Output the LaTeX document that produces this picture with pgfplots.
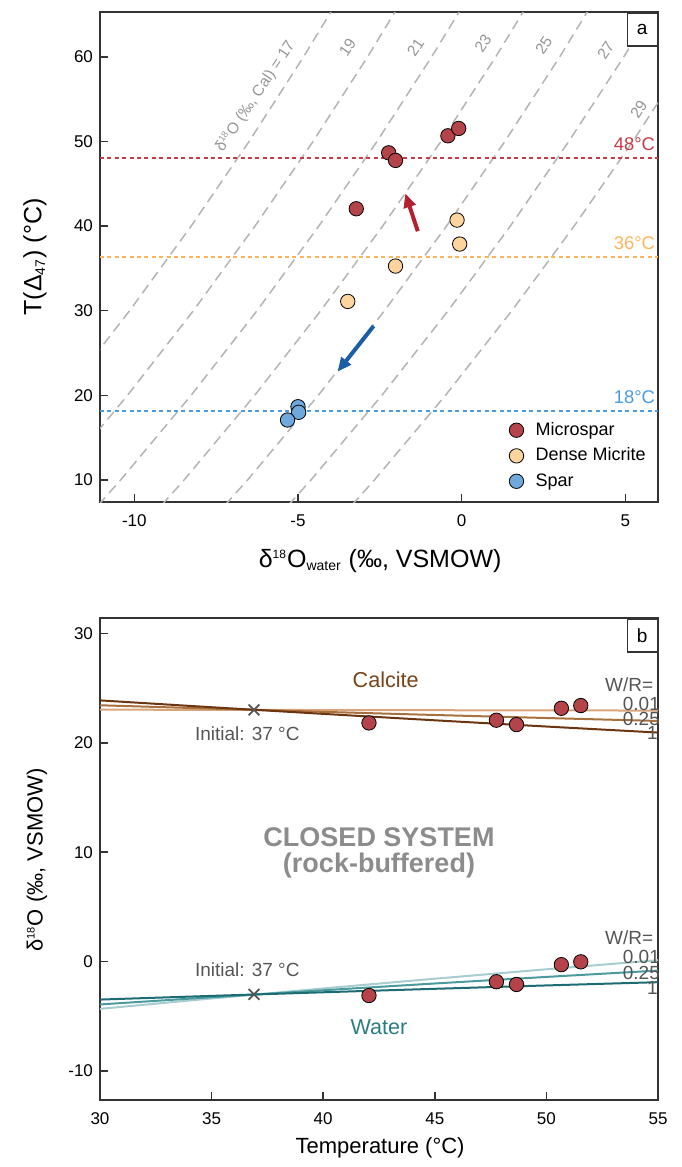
\documentclass[border=0pt]{standalone}
\usepackage{pgfplots}
\pgfplotsset{compat=1.18}
\usepackage{fontspec}
\setmainfont{Liberation Sans}
\usetikzlibrary{arrows.meta}
\definecolor{micro}{RGB}{180,67,74}
\definecolor{dense}{RGB}{253,212,158}
\definecolor{spar}{RGB}{111,168,220}
\definecolor{hred}{RGB}{200,60,70}
\definecolor{horange}{RGB}{253,180,92}
\definecolor{hblue}{RGB}{74,155,224}
\definecolor{redarrow}{RGB}{181,32,46}
\definecolor{bluearrow}{RGB}{26,94,168}
\definecolor{contour}{RGB}{180,180,180}
\definecolor{clabel}{RGB}{150,150,150}
\definecolor{calA}{RGB}{217,164,122}
\definecolor{calB}{RGB}{168,112,62}
\definecolor{calC}{RGB}{107,53,16}
\definecolor{watA}{RGB}{168,205,208}
\definecolor{watB}{RGB}{74,154,158}
\definecolor{watC}{RGB}{29,107,115}
\definecolor{caltext}{RGB}{122,68,24}
\definecolor{wattext}{RGB}{42,126,131}
\definecolor{txtgray}{RGB}{85,85,85}
\pgfplotsset{
  common/.style={
    scale only axis, width=279pt,
    tick align=inside, xtick pos=left, ytick pos=left,
    major tick length=4pt,
    axis line style={line width=0.75pt, color=black!80},
    tick style={line width=0.75pt, color=black!80},
    ticklabel style={font=\fontsize{8.5}{10}\selectfont},
    xticklabel style={yshift=-2.8pt},
    /pgf/number format/assume math mode=true,
    clip mode=individual,
  },
  pt/.style={only marks, mark=*, mark size=3.6pt, mark options={draw=black, line width=0.5pt}},
  cont/.style={contour, line width=0.75pt, dash pattern=on 5pt off 3pt, forget plot},
}
\begin{document}
\begin{tikzpicture}
\useasboundingbox (-50pt,6pt) rectangle (290.5pt,-577.5pt);
% ---------------- panel a
\begin{axis}[common, height=245pt, at={(0,0)}, anchor=north west,
  xmin=-11.05, xmax=6, ymin=7.4, ymax=65.3,
  xtick={-10,-5,0,5}, ytick={10,20,30,40,50,60},
  legend style={at={(rel axis cs:0.722,0.18)}, anchor=north west, draw=none, fill=none,
    font=\fontsize{9}{10.5}\selectfont, row sep=0.8pt},
  legend cell align=left,
]
\addplot[cont] coordinates {(-16.592,0) (-14.296,10) (-12.152,20) (-10.146,30) (-8.265,40) (-6.496,50) (-4.831,60) (-3.260,70)};
\addplot[cont] coordinates {(-14.658,0) (-12.358,10) (-10.210,20) (-8.199,30) (-6.315,40) (-4.542,50) (-2.874,60) (-1.299,70)};
\addplot[cont] coordinates {(-12.724,0) (-10.419,10) (-8.267,20) (-6.253,30) (-4.365,40) (-2.588,50) (-0.917,60) (0.661,70)};
\addplot[cont] coordinates {(-10.790,0) (-8.481,10) (-6.324,20) (-4.306,30) (-2.414,40) (-0.634,50) (1.040,60) (2.621,70)};
\addplot[cont] coordinates {(-8.856,0) (-6.542,10) (-4.382,20) (-2.359,30) (-0.464,40) (1.319,50) (2.997,60) (4.581,70)};
\addplot[cont] coordinates {(-6.922,0) (-4.604,10) (-2.439,20) (-0.413,30) (1.486,40) (3.273,50) (4.954,60) (6.541,70)};
\addplot[cont] coordinates {(-4.988,0) (-2.666,10) (-0.496,20) (1.534,30) (3.437,40) (5.227,50) (6.911,60) (8.501,70)};
\addplot[hred, line width=1pt, dash pattern=on 2pt off 1.7pt, forget plot] coordinates {(-11.05,48) (6,48)};
\addplot[horange, line width=1pt, dash pattern=on 2pt off 1.7pt, forget plot] coordinates {(-11.05,36.3) (6,36.3)};
\addplot[hblue, line width=1pt, dash pattern=on 2pt off 1.7pt, forget plot] coordinates {(-11.05,18.1) (6,18.1)};
\addplot[pt, mark options={fill=micro}] coordinates {(-2.23,48.66) (-2.02,47.76) (-0.42,50.67) (-0.09,51.54) (-3.22,42.05)};
\addlegendentry{\hspace*{4pt}Microspar}
\addplot[pt, mark options={fill=dense}] coordinates {(-0.14,40.71) (-0.06,37.88) (-2.02,35.28) (-3.48,31.10)};
\addlegendentry{\hspace*{4pt}Dense Micrite}
\addplot[pt, mark options={fill=spar}] coordinates {(-5.00,18.66) (-4.98,18.00) (-5.32,17.09)};
\addlegendentry{\hspace*{4pt}Spar}
\draw[redarrow, line width=2pt, -{Triangle[length=7pt,width=6pt]}] (axis cs:-1.34,39.4) -- (axis cs:-1.72,43.86);
\draw[bluearrow, line width=2pt, -{Triangle[length=7pt,width=6pt]}] (axis cs:-2.69,28.19) -- (axis cs:-3.79,22.8);
\begin{scope}[every node/.style={font=\fontsize{7.8}{9}\selectfont, text=clabel, rotate=56}]
\node at (axis cs:-6.3,55.3) {δ\textsuperscript{\fontsize{4.6}{5}\selectfont 18}O (‰, Cal) = 17};
\node at (axis cs:-3.49,61.1) {19};
\node at (axis cs:-1.41,61.1) {21};
\node at (axis cs:0.65,61.6) {23};
\node at (axis cs:2.51,61.4) {25};
\node at (axis cs:4.40,60.8) {27};
\node at (axis cs:5.41,53.8) {29};
\end{scope}
\begin{scope}[every node/.style={anchor=base east, inner sep=0pt, yshift=4pt, font=\fontsize{9.2}{10}\selectfont}]
\node[text=hred] at (axis cs:5.92,48) {48°C};
\node[text=horange] at (axis cs:5.92,36.3) {36°C};
\node[text=hblue] at (axis cs:5.92,18.1) {18°C};
\end{scope}
\node[draw=black!80, line width=0.75pt, fill=white, anchor=north east, minimum width=15pt, minimum height=16.5pt, inner sep=0pt, font=\fontsize{9.5}{10}\selectfont] at (rel axis cs:1,1) {a};
\node[font=\fontsize{12.5}{14}\selectfont] at (rel axis cs:0.502,-0.12) {δ\textsuperscript{\fontsize{6}{6}\selectfont 18}O\textsubscript{\fontsize{7}{7}\selectfont water} (‰, VSMOW)};
\node[rotate=90, font=\fontsize{12.5}{14}\selectfont] at (rel axis cs:-0.1165,0.5) {T(Δ\textsubscript{\fontsize{7}{7}\selectfont 47}) (°C)};
\end{axis}
% ---------------- panel b
\begin{axis}[common, height=241pt, at={(0,-303pt)}, anchor=north west,
  xmin=30, xmax=55, ymin=-12.65, ymax=31.4,
  xtick={30,35,40,45,50,55}, ytick={-10,0,10,20,30},
]
\addplot[calA, line width=1pt] coordinates {(30,23.024) (35,23.007) (40,22.990) (45,22.973) (50,22.957) (55,22.942)};
\addplot[calB, line width=1pt] coordinates {(30,23.425) (35,23.120) (40,22.824) (45,22.537) (50,22.260) (55,21.991)};
\addplot[calC, line width=1pt] coordinates {(30,23.871) (35,23.245) (40,22.639) (45,22.051) (50,21.482) (55,20.930)};
\addplot[watA, line width=1pt] coordinates {(30,-4.318) (35,-3.371) (40,-2.453) (45,-1.564) (50,-0.703) (55,0.132)};
\addplot[watB, line width=1pt] coordinates {(30,-3.917) (35,-3.258) (40,-2.619) (45,-2.001) (50,-1.401) (55,-0.820)};
\addplot[watC, line width=1pt] coordinates {(30,-3.471) (35,-3.133) (40,-2.804) (45,-2.487) (50,-2.179) (55,-1.881)};
\addplot[only marks, mark=x, mark size=3.8pt, mark options={draw=txtgray, line width=0.9pt}] coordinates {(36.9,23.0) (36.9,-3.0)};
\addplot[pt, mark options={fill=micro}] coordinates {(42.05,21.81) (47.76,22.06) (48.66,21.66) (50.67,23.15) (51.54,23.40)};
\addplot[pt, mark options={fill=micro}] coordinates {(42.05,-3.1) (47.76,-1.84) (48.66,-2.09) (50.67,-0.28) (51.54,-0.02)};
\begin{scope}[every node/.style={font=\fontsize{9.5}{10}\selectfont, text=txtgray, inner sep=0pt}]
\node at (axis cs:36.6,20.87) {Initial: 37 °C};
\node at (axis cs:36.6,-0.78) {Initial: 37 °C};
\node[anchor=east] at (axis cs:54.8,25.34) {W/R=};
\node[anchor=east] at (axis cs:55.1,23.5) {0.01};
\node[anchor=east] at (axis cs:55.1,22.2) {0.25};
\node[anchor=east] at (axis cs:55.0,20.87) {1};
\node[anchor=east] at (axis cs:54.8,2.15) {W/R=};
\node[anchor=east] at (axis cs:55.1,0.41) {0.01};
\node[anchor=east] at (axis cs:55.1,-1.05) {0.25};
\node[anchor=east] at (axis cs:55.0,-2.42) {1};
\end{scope}
\node[text=caltext, font=\fontsize{10.8}{12}\selectfont] at (axis cs:42.8,25.71) {Calcite};
\node[text=wattext, font=\fontsize{10.8}{12}\selectfont] at (axis cs:42.5,-5.98) {Water};
\node[text=black!45, font=\bfseries\fontsize{13.5}{15}\selectfont] at (axis cs:42.5,11.37) {CLOSED SYSTEM};
\node[text=black!45, font=\bfseries\fontsize{13.5}{15}\selectfont] at (axis cs:42.5,8.81) {(rock-buffered)};
\node[draw=black!80, line width=0.75pt, fill=white, anchor=north east, minimum width=15pt, minimum height=16.5pt, inner sep=0pt, font=\fontsize{9.5}{10}\selectfont] at (rel axis cs:1,1) {b};
\node[font=\fontsize{11}{13}\selectfont] at (rel axis cs:0.502,-0.0996) {Temperature (°C)};
\node[rotate=90, font=\fontsize{11}{13}\selectfont] at (rel axis cs:-0.113,0.498) {δ\textsuperscript{\fontsize{5.5}{5.5}\selectfont 18}O (‰, VSMOW)};
\end{axis}
\end{tikzpicture}
\end{document}
